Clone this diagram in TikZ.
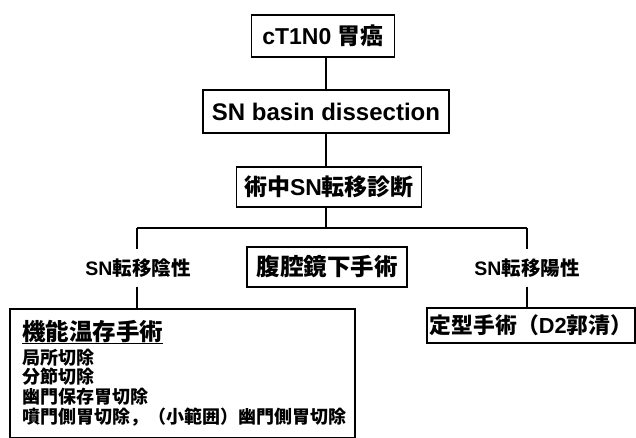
\documentclass[tikz,border=0pt]{standalone}
\usepackage{fontspec}
\setmainfont{Liberation Sans}
\newfontfamily\cjk{Noto Sans CJK JP}
\newcommand{\J}[1]{{\cjk #1}}
\newcommand{\fs}[1]{\bfseries\fontsize{#1}{#1}\selectfont}
\begin{document}
\begin{tikzpicture}[x=1pt,y=-1pt,
  box/.style={draw, line width=1.8pt, inner sep=0pt},
  lbl/.style={inner xsep=0pt, inner ysep=9pt, font=\fs{19.5}},
  item/.style={anchor=west, inner sep=0pt, font=\fs{18}},
  conn/.style={line width=1.4pt}]
\useasboundingbox (0,0) rectangle (636,438);
% main column
\node[box, minimum width=143pt, minimum height=42pt, font=\fs{23}] (b1) at (323,36) {cT1N0 \J{胃癌}};
\node[box, minimum width=246pt, minimum height=43pt, font=\fs{24}] (b2) at (326,111.5) {SN basin dissection};
\node[box, minimum width=185pt, minimum height=40pt, font=\fs{23}] (b3) at (329,187) {\J{術中}SN\J{転移診断}};
\coordinate (hub) at (326,228);
\coordinate (hl) at (137,228);
\coordinate (hr) at (527,228);
\node[box, minimum width=160pt, minimum height=40pt, font=\fs{23.5}] (lap) at (327,267) {\J{腹腔鏡下手術}};
% branch labels
\node[lbl] (neg) at (138,268) {SN\J{転移陰性}};
\node[lbl] (pos) at (527,268) {SN\J{転移陽性}};
% result boxes
\node[box, minimum width=345pt, minimum height=129pt] (func) at (182.5,373.5) {};
\node[box, minimum width=208pt, minimum height=35pt, font=\fs{21.8}] (std) at (531,325.5) {\J{定型手術（}D2\J{郭清）}};
% contents of the left box
\node[anchor=west, inner sep=0pt, font=\fs{23.5}] (t0) at (22,331) {\J{機能温存手術}};
\draw[line width=1.5pt] ([yshift=-1pt]t0.south west) -- ([yshift=-1pt]t0.south east);
\node[item] (t1) at (22,357.5) {\J{局所切除}};
\node[item] (t2) at (22,377) {\J{分節切除}};
\node[item] (t3) at (22,397) {\J{幽門保存胃切除}};
\node[item] (t4) at (22,417) {\J{噴門側胃切除，（小範囲）幽門側胃切除}};
% connectors
\draw[conn] (b2.north |- b1.south) -- (b2.north);
\draw[conn] (b2.south) -- (b2.south |- b3.north);
\draw[conn] (b2.south |- b3.south) -- (hub);
\draw[conn] (hl) -- (hr);
\draw[conn] (hl) -- (hl |- neg.north);
\draw[conn] (hl |- neg.south) -- (hl |- func.north);
\draw[conn] (hr) -- (pos.north);
\draw[conn] (pos.south) -- (pos.south |- std.north);
\end{tikzpicture}
\end{document}
